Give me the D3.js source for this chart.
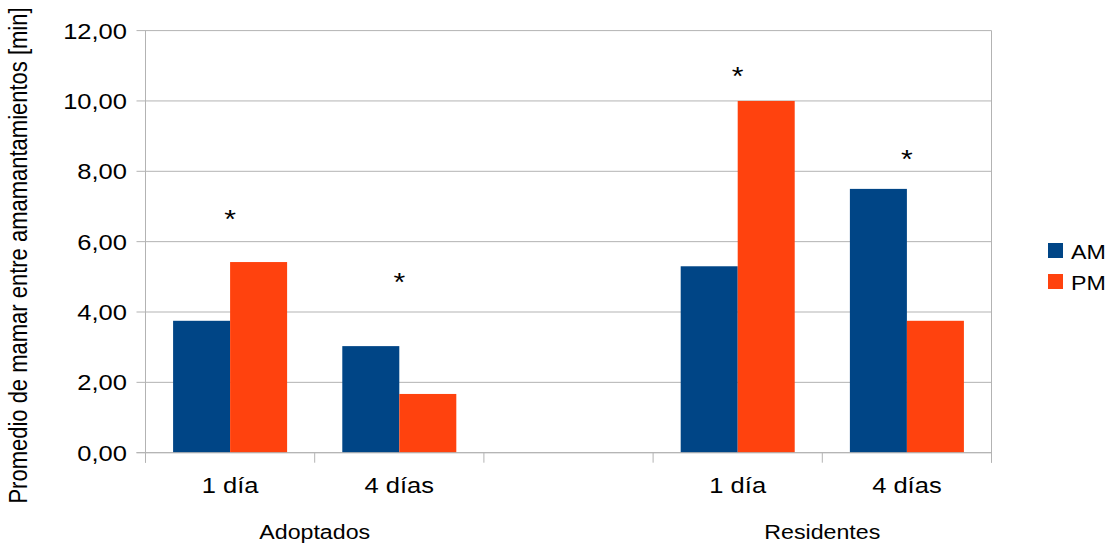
<!DOCTYPE html>
<html><head><meta charset="utf-8">
<script src="https://cdn.jsdelivr.net/npm/d3@7"></script>
<style>body{margin:0;background:#fff}svg{display:block}text{font-family:"Liberation Sans",Arial,sans-serif;fill:#000}</style>
</head><body><svg id="c" width="1115" height="546"></svg>
<script>
const categories = ["1 día", "4 días", "", "1 día", "4 días"];
const groups = ["Adoptados", "Adoptados", null, "Residentes", "Residentes"];
const groupNames = ["Adoptados", "Residentes"];
const series = ["AM", "PM"];
const amValues = [3.75, 3.03, null, 5.30, 7.50];
const pmValues = [5.42, 1.67, null, 10.00, 3.75];
const starLevels = [6.82, 5.03, null, 10.88, 8.52];
const yTicks = [0, 2, 4, 6, 8, 10, 12];
const yTitle = "Promedio de mamar entre amamantamientos [min]";
const colors = {AM: "#004586", PM: "#ff420e"};

const SX = 1.16;
const svg = d3.select("#c");
const L = 145.5, R = 991.5, T = 30.6, B = 452.7;
const keys = categories.map((c, i) => i);
const x0 = d3.scaleBand().domain(keys).range([L, R]).paddingInner(0).paddingOuter(0);
const x1 = d3.scaleBand().domain(series).range([0, x0.bandwidth()]).paddingInner(0).paddingOuter(0.484);
const y = d3.scaleLinear().domain([0, 12]).range([B, T]);
const fmt = v => d3.format(".2f")(v).replace(".", ",");

function txt(g, x, yy, s, size, anchor, rot) {
  const t = g.append("g").attr("transform", `translate(${x},${yy}) scale(${SX},1)` + (rot ? ` rotate(${rot})` : ""))
    .append("text").attr("font-size", size).attr("text-anchor", anchor || "middle").text(s);
  return t;
}

// gridlines
svg.append("g").selectAll("line").data(yTicks).join("line")
  .attr("x1", L - 9).attr("x2", R).attr("y1", d => y(d)).attr("y2", d => y(d))
  .attr("stroke", "#b3b3b3").attr("stroke-width", 1);
// y labels
const yl = svg.append("g");
yTicks.forEach(d => txt(yl, 127, y(d) + 8, fmt(d), 22, "end"));
// left axis and right border
svg.append("line").attr("x1", L).attr("x2", L).attr("y1", T).attr("y2", B + 10).attr("stroke", "#b3b3b3");
svg.append("line").attr("x1", R).attr("x2", R).attr("y1", T).attr("y2", B + 10).attr("stroke", "#b3b3b3");
// category ticks
const bounds = keys.map(k => x0(k)).concat([R]);
svg.append("g").selectAll("line").data(bounds).join("line")
  .attr("x1", d => d).attr("x2", d => d).attr("y1", B).attr("y2", B + 10).attr("stroke", "#b3b3b3");

// bars
const rows = keys.map(k => ({k, AM: amValues[k], PM: pmValues[k]}));
svg.append("g").selectAll("g").data(rows).join("g")
  .attr("transform", d => `translate(${x0(d.k)},0)`)
  .selectAll("rect").data(d => series.filter(s => d[s] != null).map(s => ({s, v: d[s]}))).join("rect")
  .attr("x", d => x1(d.s)).attr("width", x1.bandwidth())
  .attr("y", d => y(d.v)).attr("height", d => B - y(d.v))
  .attr("fill", d => colors[d.s]);
// axis line redraw
svg.append("line").attr("x1", L - 9).attr("x2", R).attr("y1", B).attr("y2", B).attr("stroke", "#b3b3b3");

// stars
const st = svg.append("g");
keys.forEach(k => { if (starLevels[k] != null) txt(st, x0(k) + x0.bandwidth() / 2, y(starLevels[k]) + 15, "*", 26, "middle"); });

// category labels
const cl = svg.append("g");
keys.forEach(k => { if (categories[k]) txt(cl, x0(k) + x0.bandwidth() / 2, 493, categories[k], 22, "middle"); });
// group labels
const gl = svg.append("g");
groupNames.forEach(g => {
  const ks = keys.filter(k => groups[k] === g);
  const a = x0(ks[0]), b = x0(ks[ks.length - 1]) + x0.bandwidth();
  txt(gl, (a + b) / 2, 539, g, 20, "middle");
});
// y title
txt(svg.append("g"), 27, 255.5, yTitle, 22, "middle", -90);

// legend
const lg = svg.append("g");
series.forEach((s, i) => {
  lg.append("rect").attr("x", 1048).attr("y", 243 + i * 31).attr("width", 15).attr("height", 15).attr("fill", colors[s]);
  txt(lg, 1071, 258.5 + i * 31, s, 20, "start");
});
</script></body></html>
